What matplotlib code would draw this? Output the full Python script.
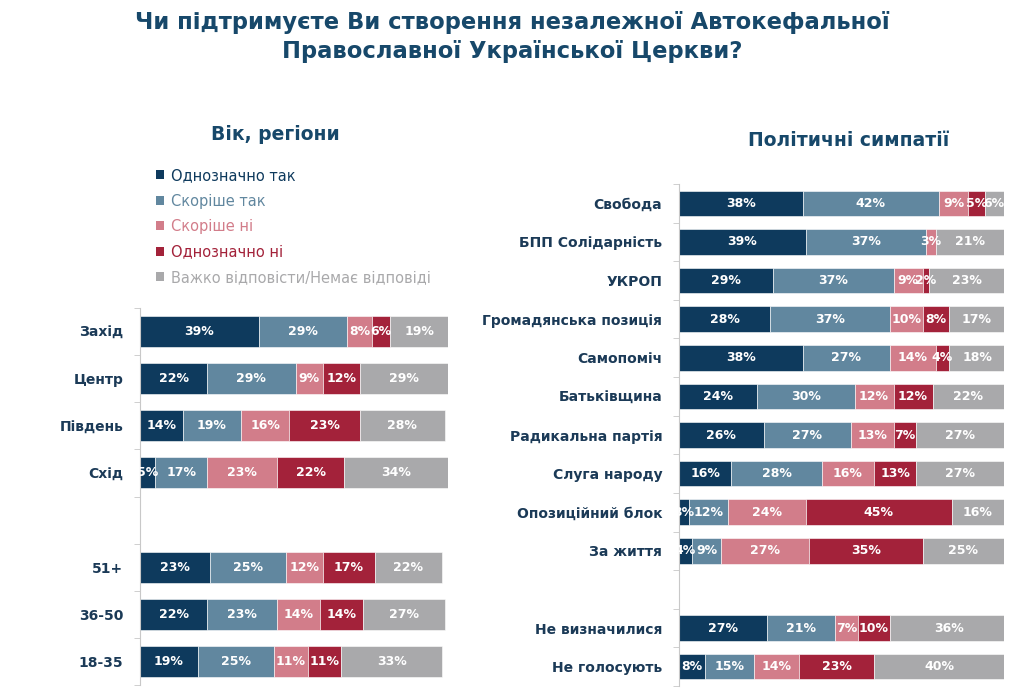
import matplotlib.pyplot as plt
from matplotlib.patches import Patch

# categories (answer options)
answers = ['Однозначно так', 'Скоріше так', 'Скоріше ні', 'Однозначно ні',
           'Важко відповісти/Немає відповіді']
colors = ['#0e3a5d', '#61879f', '#d27d8a', '#a3223a', '#a9a9ab']

# left panel: regions and age groups
regions = ['Захід', 'Центр', 'Південь', 'Схід']
region_vals = [
    [39, 29, 8, 6, 19],
    [22, 29, 9, 12, 29],
    [14, 19, 16, 23, 28],
    [5, 17, 23, 22, 34],
]
ages = ['51+', '36-50', '18-35']
age_vals = [
    [23, 25, 12, 17, 22],
    [22, 23, 14, 14, 27],
    [19, 25, 11, 11, 33],
]

# right panel: political sympathies
parties = ['Свобода', 'БПП Солідарність', 'УКРОП', 'Громадянська позиція',
           'Самопоміч', 'Батьківщина', 'Радикальна партія', 'Слуга народу',
           'Опозиційний блок', 'За життя']
party_vals = [
    [38, 42, 9, 5, 6],
    [39, 37, 3, 0, 21],
    [29, 37, 9, 2, 23],
    [28, 37, 10, 8, 17],
    [38, 27, 14, 4, 18],
    [24, 30, 12, 12, 22],
    [26, 27, 13, 7, 27],
    [16, 28, 16, 13, 27],
    [3, 12, 24, 45, 16],
    [4, 9, 27, 35, 25],
]
others = ['Не визначилися', 'Не голосують']
other_vals = [
    [27, 21, 7, 10, 36],
    [8, 15, 14, 23, 40],
]

title_color = '#17486a'
label_color = '#1b3a57'


def draw_panel(ax, names, rows, xmax):
    pos = list(range(len(names)))
    for i, row in enumerate(rows):
        if row is None:
            continue
        left = 0
        for j, v in enumerate(row):
            if v > 0:
                ax.barh(pos[i], v, left=left, height=0.66, color=colors[j],
                        edgecolor='white', linewidth=0.4)
                ax.text(left + v / 2, pos[i], f'{v}%', ha='center', va='center',
                        color='white', fontsize=9, fontweight='bold', clip_on=True)
            left += v
    ax.set_xlim(0, xmax)
    ax.set_ylim(len(names) - 0.5, -0.5)
    ax.set_yticks(pos)
    ax.set_yticklabels(names, fontsize=10, fontweight='bold', color=label_color)
    ax.set_yticks([p - 0.5 for p in pos] + [len(names) - 0.5], minor=True)
    ax.tick_params(axis='y', which='major', length=0, pad=12)
    ax.tick_params(axis='y', which='minor', length=4, color='#c8c8c8')
    ax.set_xticks([])
    for s in ['top', 'right', 'bottom']:
        ax.spines[s].set_visible(False)
    ax.spines['left'].set_color('#c8c8c8')


fig = plt.figure(figsize=(10.24, 6.88), dpi=100)

axl = fig.add_axes([140 / 1024, 3 / 688, 308 / 1024, 377 / 688])
draw_panel(axl, regions + [''] + ages, region_vals + [None] + age_vals, 101)

axr = fig.add_axes([679 / 1024, 2 / 688, 325 / 1024, 502 / 688])
draw_panel(axr, parties + [''] + others, party_vals + [None] + other_vals, 100)

fig.text(0.5, 1 - 37 / 688,
         'Чи підтримуєте Ви створення незалежної Автокефальної\n'
         'Православної Української Церкви?',
         ha='center', va='center', fontsize=16.3, fontweight='bold',
         color=title_color, linespacing=1.3)
fig.text(275 / 1024, 1 - 135 / 688, 'Вік, регіони', ha='center', va='center',
         fontsize=13.5, fontweight='bold', color=title_color)
fig.text(849 / 1024, 1 - 140 / 688, 'Політичні симпатії', ha='center', va='center',
         fontsize=13.5, fontweight='bold', color=title_color)

handles = [Patch(facecolor=c, edgecolor='none') for c in colors]
fig.legend(handles, answers, loc='upper left',
           bbox_to_anchor=(156 / 1024, 1 - 168 / 688), frameon=False,
           fontsize=10.5, labelcolor=colors, handlelength=0.55, handleheight=0.55,
           handletextpad=0.45, labelspacing=0.72, borderaxespad=0, borderpad=0)

fig.savefig('out.png', dpi=100, facecolor='white')
